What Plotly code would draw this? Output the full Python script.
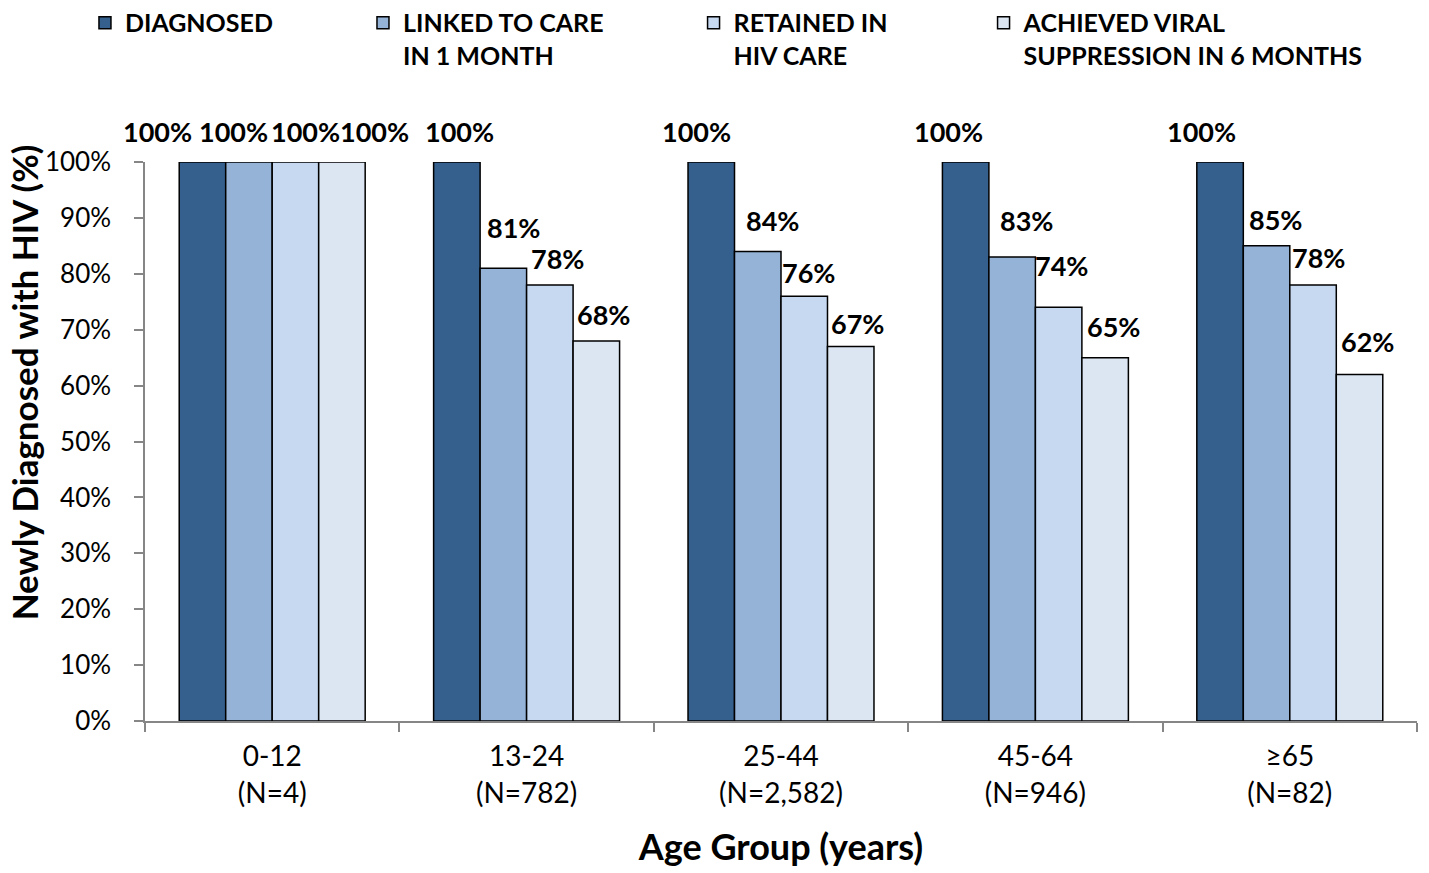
import plotly.graph_objects as go

# Age groups and HIV care continuum percentages
age_groups = ["0-12<br>(N=4)", "13-24<br>(N=782)", "25-44<br>(N=2,582)",
              "45-64<br>(N=946)", "≥65<br>(N=82)"]
series_names = ["DIAGNOSED", "LINKED TO CARE<br>IN 1 MONTH", "RETAINED IN<br>HIV CARE",
                "ACHIEVED VIRAL<br>SUPPRESSION IN 6 MONTHS"]
diagnosed = [100, 100, 100, 100, 100]
linked = [100, 81, 84, 83, 85]
retained = [100, 78, 76, 74, 78]
suppressed = [100, 68, 67, 65, 62]
y_ticks = [0, 10, 20, 30, 40, 50, 60, 70, 80, 90, 100]

colors = ["#355F8D", "#95B3D7", "#C6D9F0", "#DCE6F2"]
series_values = [diagnosed, linked, retained, suppressed]

FONT = "Lato"
BARGAP = 0.269
W, H = 1429, 873

# trailing non-breaking spaces that widen each legend entry to its column
legend_pad = [14, 14, 15, 0]

# pixel nudges for the value labels: (dx, dy above bar top) per group, per series
label_nudge = [
    [(-45, 31), (-15, 31), (10, 31), (33, 31)],
    [(3, 31), (10, 41), (8, 26), (7, 26)],
    [(-15, 31), (15, 31), (4, 24), (7, 23)],
    [(-17, 31), (14, 37), (3, 42), (8, 31)],
    [(-19, 31), (9, 26), (5, 27), (8, 33)],
]


def padded(name, n):
    first, *rest = name.split("<br>")
    return "<br>".join([first + "\u00a0" * n] + rest)


fig = go.Figure()
for name, pad, vals, col in zip(series_names, legend_pad, series_values, colors):
    fig.add_trace(go.Bar(
        x=age_groups, y=vals, name=padded(name, pad),
        marker=dict(color=col, line=dict(color="black", width=1.5)),
        hoverinfo="x+y",
    ))

bar_w = (1 - BARGAP) / len(series_values)
annotations = []
for gi in range(len(age_groups)):
    for si, vals in enumerate(series_values):
        dx, dy = label_nudge[gi][si]
        annotations.append(dict(
            x=gi + (si - (len(series_values) - 1) / 2) * bar_w,
            y=vals[gi], xref="x", yref="y",
            text=f"{vals[gi]}%", showarrow=False,
            xanchor="center", yanchor="middle",
            xshift=dx, yshift=dy,
            font=dict(family=FONT, size=27, color="black", weight="bold"),
        ))

# vertical axis title, set a little above the middle of the axis
annotations.append(dict(
    text="Newly Diagnosed with HIV (%)", textangle=-90,
    xref="paper", yref="paper", x=-0.0955, y=0.605,
    xanchor="center", yanchor="middle", showarrow=False,
    font=dict(family=FONT, size=35, color="black", weight="bold"),
))

fig.update_layout(
    width=W, height=H,
    margin=dict(l=145, r=12, t=162, b=152, autoexpand=False),
    paper_bgcolor="white", plot_bgcolor="white",
    barmode="group", bargap=BARGAP, bargroupgap=0,
    font=dict(family=FONT, color="black"),
    annotations=annotations,
    legend=dict(
        orientation="h", xref="paper", yref="paper",
        x=-0.0472, y=1.29, xanchor="left", yanchor="top", valign="top",
        font=dict(family=FONT, size=25, color="black", weight="bold"),
        traceorder="normal", bgcolor="rgba(0,0,0,0)",
        itemclick=False, itemdoubleclick=False,
    ),
    xaxis=dict(
        range=[-0.5, len(age_groups) - 0.5], automargin=False,
        showline=True, linecolor="#868686", linewidth=1.5,
        ticks="outside", tickson="boundaries", ticklen=9, tickcolor="#868686", tickwidth=1.5,
        ticklabelstandoff=10,
        tickfont=dict(family=FONT, size=28, color="black"),
        title=dict(text="Age Group (years)", font=dict(family=FONT, size=36, weight="bold"),
                   standoff=27),
    ),
    yaxis=dict(
        range=[0, 100], automargin=False,
        tickvals=y_ticks, ticktext=[f"{v}%" for v in y_ticks],
        showgrid=False, zeroline=False,
        showline=True, linecolor="#868686", linewidth=1.5,
        ticks="outside", ticklen=9, tickcolor="#868686", tickwidth=1.5,
        ticklabelstandoff=18,
        tickfont=dict(family=FONT, size=26, color="black"),
    ),
)

fig.write_html("out.html")
